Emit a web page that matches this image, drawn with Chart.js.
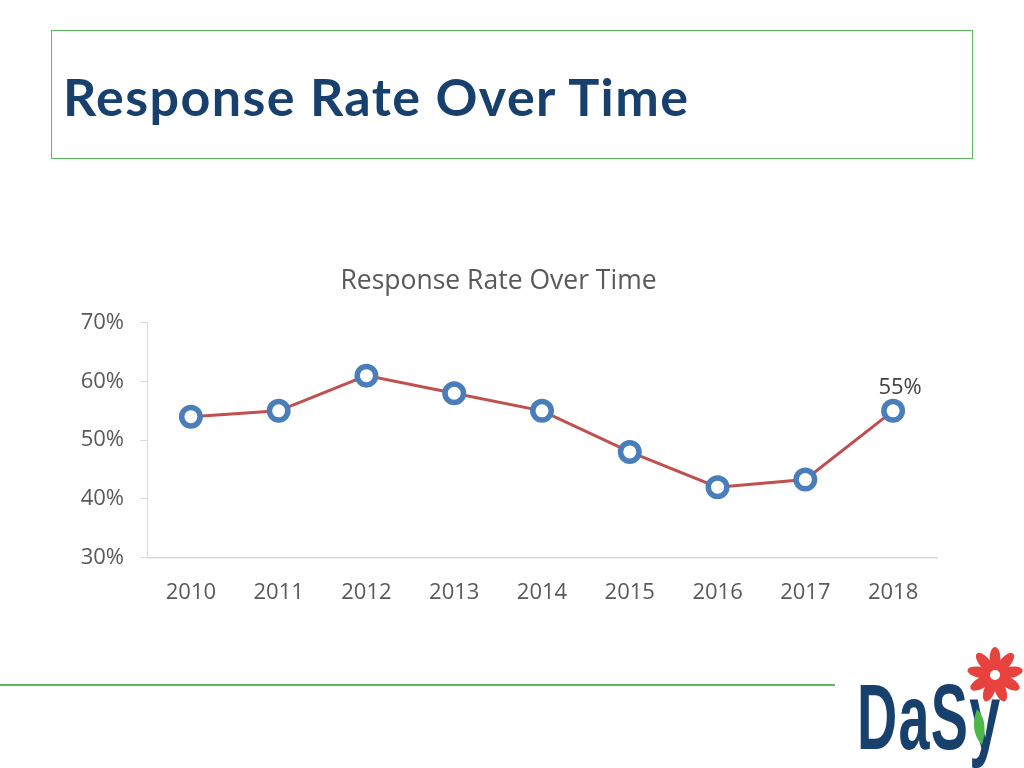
<!DOCTYPE html>
<html>
<head>
<meta charset="utf-8">
<script src="https://cdn.jsdelivr.net/npm/chart.js@4"></script>
<style>
  body { margin: 0; width: 1024px; height: 768px; background: #fff; position: relative; overflow: hidden; font-family: "Open Sans", sans-serif; }
  .title-box { position: absolute; left: 51px; top: 30px; width: 920px; height: 127px; border: 1px solid #5cb85c; }
  .title-box h1 { margin: 0; position: absolute; left: 11px; top: 34px; font-family: "Lato", sans-serif; font-weight: bold; font-size: 52px; line-height: 1.2; color: #17406d; letter-spacing: 1.4px; }
  .chart-wrap { position: absolute; left: 60px; top: 255px; width: 900px; height: 383px; }
  .rule { position: absolute; left: 0; top: 684px; width: 835px; height: 2px; background: #5cb85c; }
  .logo { position: absolute; left: 855px; top: 645px; width: 169px; height: 123px; }
  .logo span { position: absolute; left: 2px; top: 26px; font-family: "Liberation Sans", sans-serif; font-weight: bold; font-size: 93px; color: #17406d; line-height: 1; transform: scaleX(0.6); transform-origin: left top; letter-spacing: 2px; }
</style>
</head>
<body>
<div class="title-box"><h1>Response Rate Over Time</h1></div>
<div class="chart-wrap"><canvas id="rateChart"></canvas></div>
<div class="rule"></div>
<div class="logo">
  <span>DaSy</span>
  <svg width="169" height="123" style="position:absolute;left:0;top:0">
    <g transform="translate(140,30)" fill="#e8423f">
      <ellipse cx="0" cy="-16" rx="5.5" ry="12"/>
      <ellipse cx="0" cy="-16" rx="5.5" ry="12" transform="rotate(40)"/>
      <ellipse cx="0" cy="-16" rx="5.5" ry="12" transform="rotate(80)"/>
      <ellipse cx="0" cy="-16" rx="5.5" ry="12" transform="rotate(120)"/>
      <ellipse cx="0" cy="-16" rx="5.5" ry="12" transform="rotate(160)"/>
      <ellipse cx="0" cy="-16" rx="5.5" ry="12" transform="rotate(200)"/>
      <ellipse cx="0" cy="-16" rx="5.5" ry="12" transform="rotate(240)"/>
      <ellipse cx="0" cy="-16" rx="5.5" ry="12" transform="rotate(280)"/>
      <ellipse cx="0" cy="-16" rx="5.5" ry="12" transform="rotate(320)"/>
      <circle cx="0" cy="0" r="5" fill="#fff"/>
    </g>
    <path d="M122 64 Q134 76 127 100 Q114 86 122 64 Z" fill="#4cb848"/>
  </svg>
</div>
<script>
// Data
const years = ['2010', '2011', '2012', '2013', '2014', '2015', '2016', '2017', '2018'];
const responseRate = [54, 55, 61, 58, 55, 48, 42, 43.3, 55];
const yTicks = [30, 40, 50, 60, 70];
const labelledIndex = [8]; // only the last point has a data label

const textGrey = '#595959';

// draws the "55%" label above the chosen points
const pointLabels = {
    id: 'pointLabels',
    afterDatasetsDraw(chart) {
        const ctx = chart.ctx;
        const meta = chart.getDatasetMeta(0);
        ctx.save();
        ctx.font = '22px "Open Sans", sans-serif';
        ctx.fillStyle = '#404040';
        ctx.textAlign = 'center';
        ctx.textBaseline = 'bottom';
        labelledIndex.forEach(i => {
            const pt = meta.data[i];
            ctx.fillText(Math.round(responseRate[i]) + '%', pt.x + 7, pt.y - 12);
        });
        ctx.restore();
    }
};

document.addEventListener('DOMContentLoaded', function () {
    const ctx = document.getElementById('rateChart').getContext('2d');
    new Chart(ctx, {
        type: 'line',
        data: {
            labels: years,
            datasets: [{
                label: 'Response Rate',
                data: responseRate,
                borderColor: '#c0504d',
                borderWidth: 3,
                pointRadius: 9.25,
                pointHoverRadius: 9.25,
                pointBorderWidth: 5.5,
                pointBorderColor: '#4a7ebb',
                pointBackgroundColor: '#ffffff',
                tension: 0,
            }],
        },
        options: {
            responsive: true,
            maintainAspectRatio: false,
            animation: false,
            layout: { padding: { left: 0, right: 23, top: 0, bottom: 10 } },
            plugins: {
                legend: { display: false },
                tooltip: { enabled: false },
                title: {
                    display: true,
                    text: 'Response Rate Over Time',
                    color: textGrey,
                    font: { family: '"Open Sans", sans-serif', size: 26.5, weight: 'normal' },
                    padding: { top: 11, bottom: 25 },
                },
            },
            scales: {
                x: {
                    offset: true,
                    grid: { display: false, drawTicks: false },
                    border: { display: true, color: '#d9d9d9', width: 1.5 },
                    ticks: { color: textGrey, font: { family: '"Open Sans", sans-serif', size: 22 }, padding: 22 },
                },
                y: {
                    min: 30,
                    max: 70,
                    afterBuildTicks: axis => { axis.ticks = yTicks.map(v => ({ value: v })); },
                    afterFit: axis => { axis.width = 87; },
                    grid: { drawOnChartArea: false, drawTicks: true, tickLength: 7, color: '#d9d9d9' },
                    border: { display: true, color: '#d9d9d9', dash: [2, 2] },
                    ticks: {
                        color: textGrey,
                        font: { family: '"Open Sans", sans-serif', size: 22 },
                        padding: 16,
                        callback: v => v + '%',
                    },
                },
            },
        },
        plugins: [pointLabels],
    });
});
</script>
</body>
</html>
